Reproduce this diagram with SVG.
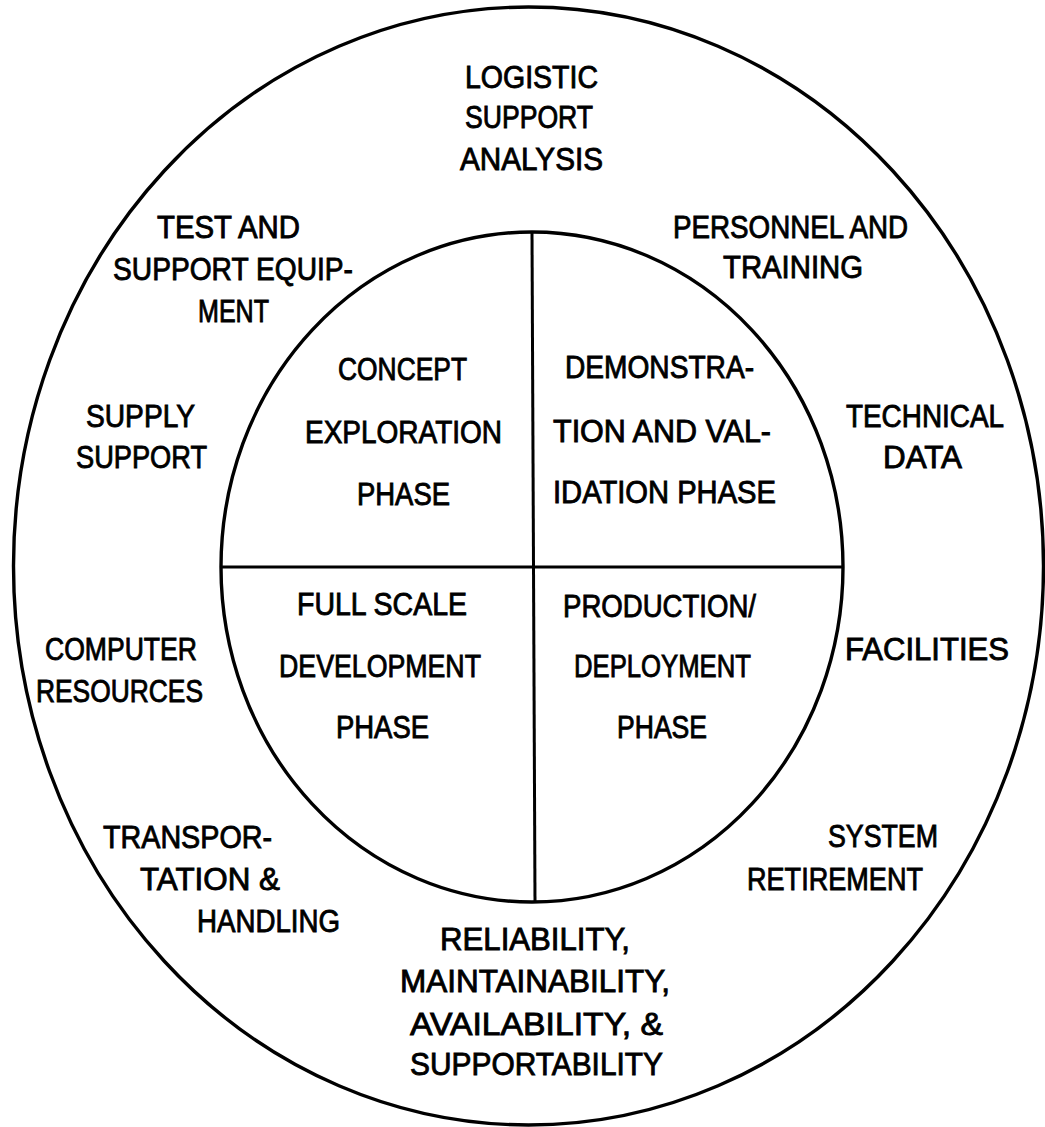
<svg xmlns="http://www.w3.org/2000/svg" width="1045" height="1127" viewBox="0 0 1045 1127">
<style>
.ring{fill:none;stroke:#000;stroke-width:3.4}
.div{stroke:#000;stroke-width:3;fill:none}
text{font-family:"Liberation Sans","DejaVu Sans",Arial,sans-serif;font-size:32px;fill:#000;stroke:#000;stroke-width:0.9}
</style>
<rect x="0" y="0" width="1045" height="1127" fill="#fff" stroke="none"/>
<g id="outer-ring"><ellipse class="ring" cx="528.5" cy="566" rx="515" ry="559"/></g>
<g id="inner-ring"><ellipse class="ring" cx="532" cy="567" rx="311" ry="335"/></g>
<g id="connectors">
<line class="div" x1="532" y1="232" x2="535" y2="902"/>
<line class="div" x1="221" y1="567" x2="843" y2="567"/>
</g>
<g id="lsa">
<text x="465" y="88" textLength="133" lengthAdjust="spacingAndGlyphs">LOGISTIC</text>
<text x="465" y="128" textLength="128" lengthAdjust="spacingAndGlyphs">SUPPORT</text>
<text x="460" y="170" textLength="143" lengthAdjust="spacingAndGlyphs">ANALYSIS</text>
</g>
<g id="test-support">
<text x="157" y="238" textLength="143" lengthAdjust="spacingAndGlyphs">TEST AND</text>
<text x="113" y="280" textLength="240" lengthAdjust="spacingAndGlyphs">SUPPORT EQUIP-</text>
<text x="198" y="322" textLength="71" lengthAdjust="spacingAndGlyphs">MENT</text>
</g>
<g id="personnel">
<text x="673" y="238" textLength="235" lengthAdjust="spacingAndGlyphs">PERSONNEL AND</text>
<text x="723" y="278" textLength="140" lengthAdjust="spacingAndGlyphs">TRAINING</text>
</g>
<g id="concept">
<text x="338" y="380" textLength="129" lengthAdjust="spacingAndGlyphs">CONCEPT</text>
<text x="305" y="443" textLength="197" lengthAdjust="spacingAndGlyphs">EXPLORATION</text>
<text x="357" y="505" textLength="93" lengthAdjust="spacingAndGlyphs">PHASE</text>
</g>
<g id="demval">
<text x="565" y="378" textLength="189" lengthAdjust="spacingAndGlyphs">DEMONSTRA-</text>
<text x="553" y="442" textLength="218" lengthAdjust="spacingAndGlyphs">TION AND VAL-</text>
<text x="553" y="503" textLength="223" lengthAdjust="spacingAndGlyphs">IDATION PHASE</text>
</g>
<g id="supply">
<text x="86" y="427" textLength="109" lengthAdjust="spacingAndGlyphs">SUPPLY</text>
<text x="76" y="468" textLength="131" lengthAdjust="spacingAndGlyphs">SUPPORT</text>
</g>
<g id="techdata">
<text x="846" y="427" textLength="158" lengthAdjust="spacingAndGlyphs">TECHNICAL</text>
<text x="883" y="468" textLength="79" lengthAdjust="spacingAndGlyphs">DATA</text>
</g>
<g id="fsd">
<text x="297" y="615" textLength="170" lengthAdjust="spacingAndGlyphs">FULL SCALE</text>
<text x="279" y="677" textLength="202" lengthAdjust="spacingAndGlyphs">DEVELOPMENT</text>
<text x="336" y="738" textLength="93" lengthAdjust="spacingAndGlyphs">PHASE</text>
</g>
<g id="production">
<text x="563" y="617" textLength="193" lengthAdjust="spacingAndGlyphs">PRODUCTION/</text>
<text x="574" y="677" textLength="177" lengthAdjust="spacingAndGlyphs">DEPLOYMENT</text>
<text x="617" y="738" textLength="90" lengthAdjust="spacingAndGlyphs">PHASE</text>
</g>
<g id="computer">
<text x="45" y="660" textLength="152" lengthAdjust="spacingAndGlyphs">COMPUTER</text>
<text x="36" y="702" textLength="167" lengthAdjust="spacingAndGlyphs">RESOURCES</text>
</g>
<g id="facilities">
<text x="845" y="660" textLength="164" lengthAdjust="spacingAndGlyphs">FACILITIES</text>
</g>
<g id="transport">
<text x="103" y="848" textLength="169" lengthAdjust="spacingAndGlyphs">TRANSPOR-</text>
<text x="140" y="890" textLength="140" lengthAdjust="spacingAndGlyphs">TATION &amp;</text>
<text x="197" y="932" textLength="143" lengthAdjust="spacingAndGlyphs">HANDLING</text>
</g>
<g id="retirement">
<text x="828" y="847" textLength="110" lengthAdjust="spacingAndGlyphs">SYSTEM</text>
<text x="747" y="890" textLength="176" lengthAdjust="spacingAndGlyphs">RETIREMENT</text>
</g>
<g id="rmas">
<text x="440" y="950" textLength="190" lengthAdjust="spacingAndGlyphs">RELIABILITY,</text>
<text x="400" y="992" textLength="270" lengthAdjust="spacingAndGlyphs">MAINTAINABILITY,</text>
<text x="410" y="1035" textLength="253" lengthAdjust="spacingAndGlyphs">AVAILABILITY, &amp;</text>
<text x="410" y="1075" textLength="253" lengthAdjust="spacingAndGlyphs">SUPPORTABILITY</text>
</g>
</svg>
